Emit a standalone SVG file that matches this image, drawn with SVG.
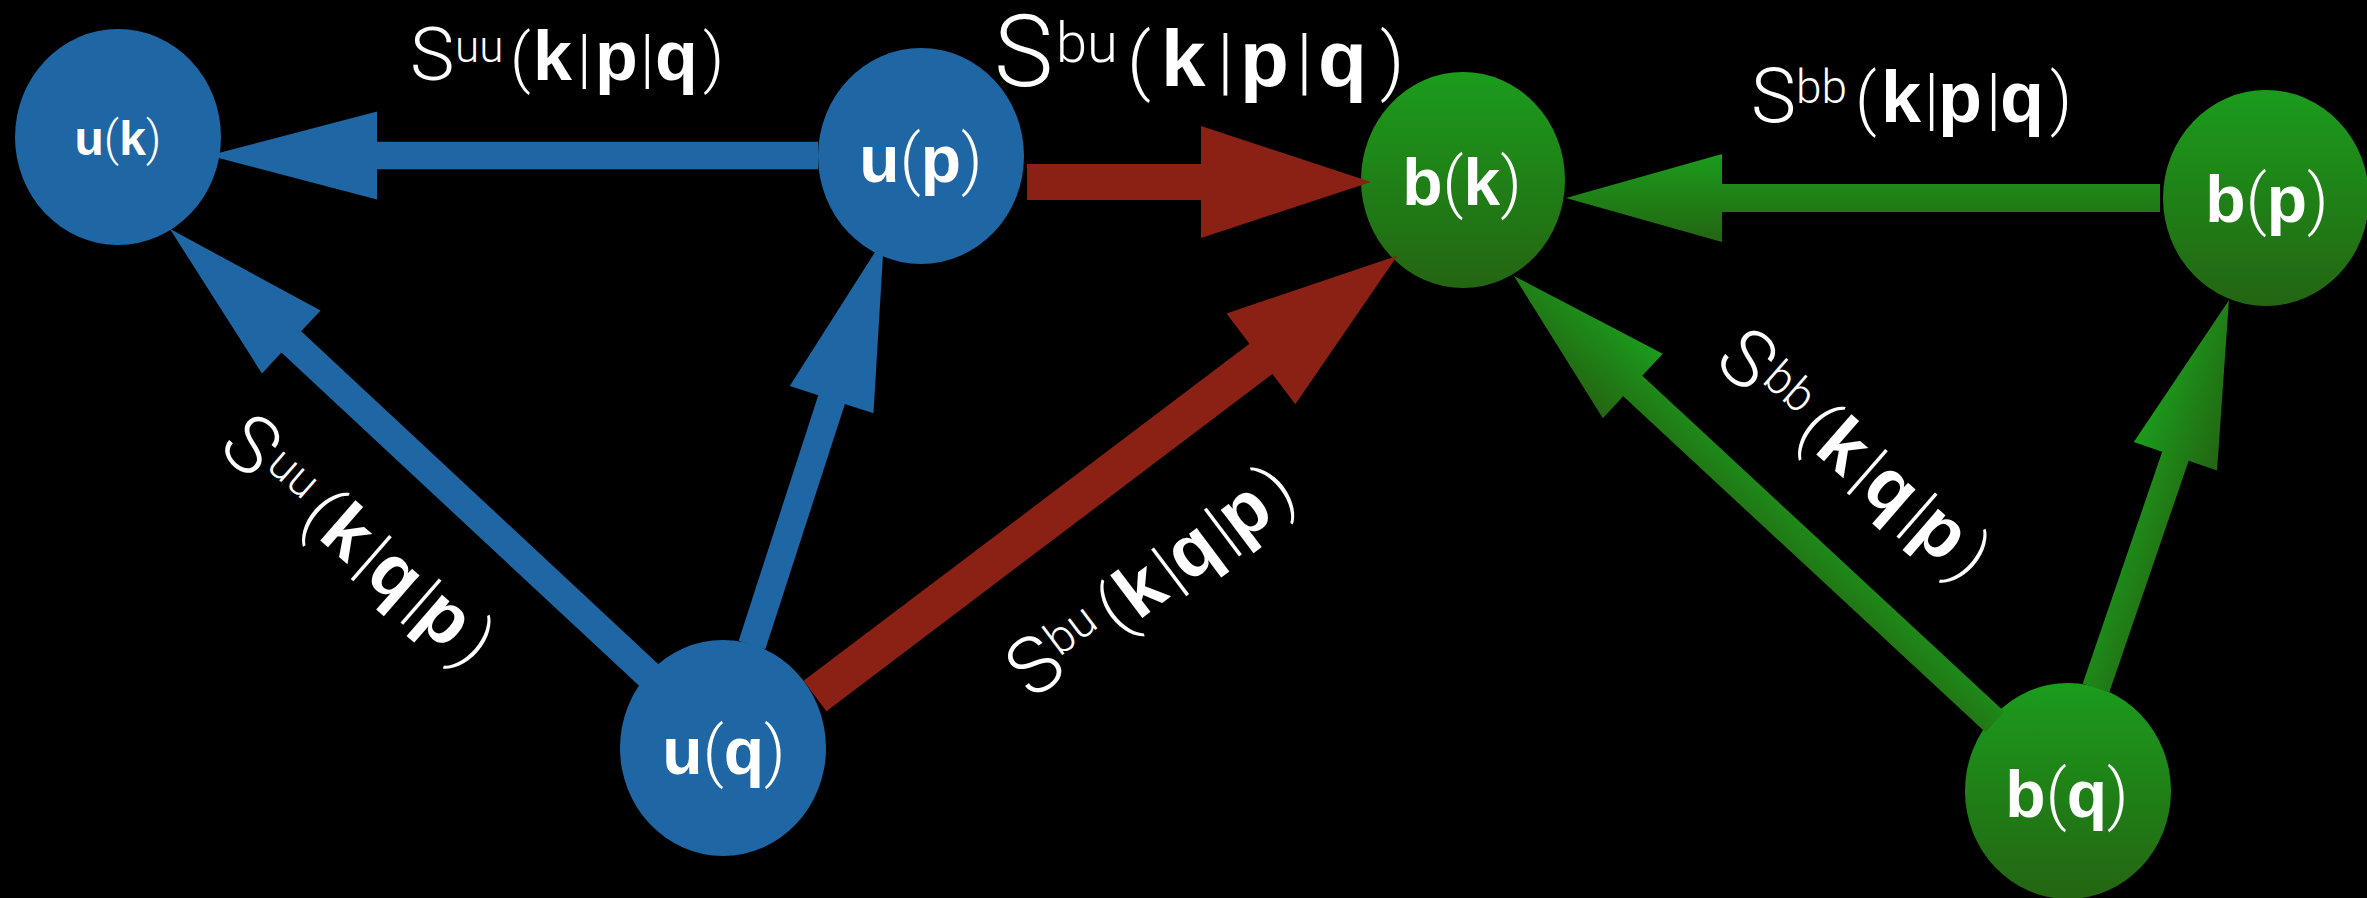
<svg xmlns="http://www.w3.org/2000/svg" width="2367" height="898" viewBox="0 0 2367 898">
  <defs>
    <linearGradient id="green" x1="0" y1="0" x2="0" y2="1">
      <stop offset="0" stop-color="#1b9c1c"/>
      <stop offset="1" stop-color="#246512"/>
    </linearGradient>
    <style>
      .blue { fill: #1f66a5; }
      .red { fill: #8b2115; }
      .green { fill: url(#green); }
      .lt { font-family: Roboto, "Open Sans", "Liberation Sans", sans-serif; font-weight: 300; fill: #ffffff; }
      .bd { font-family: "Liberation Sans", Arial, sans-serif; font-weight: 700; fill: #ffffff; }
      .node-label { font-size: 66px; }
    </style>
  </defs>

  <rect x="0" y="0" width="2367" height="898" fill="#000000"/>

  <!-- velocity modes -->
  <g id="node-uk">
    <ellipse class="blue" cx="118" cy="137" rx="103" ry="108"/>
    <text x="118" y="155" text-anchor="middle" font-size="48"><tspan class="bd">u</tspan><tspan class="lt">(</tspan><tspan class="bd">k</tspan><tspan class="lt">)</tspan></text>
  </g>
  <g id="node-up">
    <ellipse class="blue" cx="921" cy="156" rx="103" ry="108"/>
    <text class="node-label" x="921" y="182" text-anchor="middle"><tspan class="bd">u</tspan><tspan class="lt">(</tspan><tspan class="bd">p</tspan><tspan class="lt">)</tspan></text>
  </g>
  <g id="node-uq">
    <ellipse class="blue" cx="723" cy="748" rx="103" ry="108"/>
    <text class="node-label" x="724" y="774" text-anchor="middle"><tspan class="bd">u</tspan><tspan class="lt">(</tspan><tspan class="bd">q</tspan><tspan class="lt">)</tspan></text>
  </g>

  <!-- magnetic modes -->
  <g id="node-bk">
    <ellipse class="green" cx="1463" cy="180" rx="102" ry="108"/>
    <text class="node-label" x="1462" y="205" text-anchor="middle"><tspan class="bd">b</tspan><tspan class="lt">(</tspan><tspan class="bd">k</tspan><tspan class="lt">)</tspan></text>
  </g>
  <g id="node-bp">
    <ellipse class="green" cx="2266" cy="198" rx="103" ry="108"/>
    <text class="node-label" x="2267" y="222" text-anchor="middle"><tspan class="bd">b</tspan><tspan class="lt">(</tspan><tspan class="bd">p</tspan><tspan class="lt">)</tspan></text>
  </g>
  <g id="node-bq">
    <ellipse class="green" cx="2068" cy="791" rx="103" ry="108"/>
    <text class="node-label" x="2067" y="817" text-anchor="middle"><tspan class="bd">b</tspan><tspan class="lt">(</tspan><tspan class="bd">q</tspan><tspan class="lt">)</tspan></text>
  </g>

  <!-- transfer arrows: shaft + head drawn along local +x, then placed -->
  <g id="connectors">
    <polygon class="blue" transform="translate(818,155.5) rotate(180)" points="0,-13.75 441,-13.75 441,-44 609,0 441,44 441,13.75 0,13.75"/>
    <polygon class="red" transform="translate(1027,182)" points="0,-18 174,-18 174,-56 344,0 174,56 174,18 0,18"/>
    <polygon class="green" transform="translate(2160,198) scale(-1,1)" points="0,-14 438,-14 438,-44 594,0 438,44 438,14 0,14"/>
    <polygon class="blue" transform="translate(652,678) rotate(222.97)" points="0,-14.5 493,-14.5 493,-43 659,0 493,43 493,14.5 0,14.5"/>
    <polygon class="blue" transform="translate(752,645) rotate(-72.03)" points="0,-14 258,-14 258,-44 428,0 258,44 258,14 0,14"/>
    <polygon class="red" transform="translate(815,696) rotate(-37.09)" points="0,-19 559,-19 559,-57 730,0 559,57 559,19 0,19"/>
    <polygon class="green" transform="translate(1995,722) scale(-1,1) rotate(-42.84)" points="0,-14 494,-14 494,-44 656,0 494,44 494,14 0,14"/>
    <polygon class="green" transform="translate(2096,688) rotate(-71.08)" points="0,-14 245,-14 245,-44 410,0 245,44 245,14 0,14"/>
  </g>

  <!-- transfer function labels -->
  <g id="labels">
    <text y="80" font-size="65"><tspan class="lt" x="410" font-size="75">S</tspan><tspan class="lt" x="455" y="62" font-size="44">uu</tspan><tspan class="lt" x="510" y="80">(</tspan><tspan class="bd" x="533" font-size="70">k</tspan><tspan class="lt" x="577">|</tspan><tspan class="bd" x="595" font-size="70">p</tspan><tspan class="lt" x="640">|</tspan><tspan class="bd" x="655" font-size="70">q</tspan><tspan class="lt" x="703">)</tspan></text>

    <text y="86" font-size="75"><tspan class="lt" x="994" font-size="100">S</tspan><tspan class="lt" x="1056" y="62" font-size="56">bu</tspan><tspan class="lt" x="1127" y="86">(</tspan><tspan class="bd" x="1161" font-size="80">k</tspan><tspan class="lt" x="1217">|</tspan><tspan class="bd" x="1240" font-size="80">p</tspan><tspan class="lt" x="1296">|</tspan><tspan class="bd" x="1318" font-size="80">q</tspan><tspan class="lt" x="1380">)</tspan></text>

    <text y="122" font-size="68"><tspan class="lt" x="1751" font-size="76">S</tspan><tspan class="lt" x="1796" y="103" font-size="46">bb</tspan><tspan class="lt" x="1855" y="122">(</tspan><tspan class="bd" x="1881" font-size="72">k</tspan><tspan class="lt" x="1924">|</tspan><tspan class="bd" x="1938" font-size="72">p</tspan><tspan class="lt" x="1986">|</tspan><tspan class="bd" x="2000" font-size="72">q</tspan><tspan class="lt" x="2050">)</tspan></text>

    <text transform="translate(216,450) rotate(41) scale(1.1)" y="0" font-size="63"><tspan class="lt" x="0" font-size="72">S</tspan><tspan class="lt" x="44" y="-17" font-size="42">uu</tspan><tspan class="lt" x="99" y="0">(</tspan><tspan class="bd" x="121" font-size="67">k</tspan><tspan class="lt" x="164">|</tspan><tspan class="bd" x="178" font-size="67">q</tspan><tspan class="lt" x="224">|</tspan><tspan class="bd" x="237" font-size="67">p</tspan><tspan class="lt" x="284">)</tspan></text>

    <text transform="translate(1032,701) rotate(-37) scale(1.1)" y="0" font-size="63"><tspan class="lt" x="0" font-size="72">S</tspan><tspan class="lt" x="44" y="-17" font-size="42">bu</tspan><tspan class="lt" x="99" y="0">(</tspan><tspan class="bd" x="121" font-size="67">k</tspan><tspan class="lt" x="164">|</tspan><tspan class="bd" x="178" font-size="67">q</tspan><tspan class="lt" x="224">|</tspan><tspan class="bd" x="237" font-size="67">p</tspan><tspan class="lt" x="284">)</tspan></text>

    <text transform="translate(1712,364) rotate(41) scale(1.1)" y="0" font-size="63"><tspan class="lt" x="0" font-size="72">S</tspan><tspan class="lt" x="44" y="-17" font-size="42">bb</tspan><tspan class="lt" x="99" y="0">(</tspan><tspan class="bd" x="121" font-size="67">k</tspan><tspan class="lt" x="164">|</tspan><tspan class="bd" x="178" font-size="67">q</tspan><tspan class="lt" x="224">|</tspan><tspan class="bd" x="237" font-size="67">p</tspan><tspan class="lt" x="284">)</tspan></text>
  </g>
</svg>
